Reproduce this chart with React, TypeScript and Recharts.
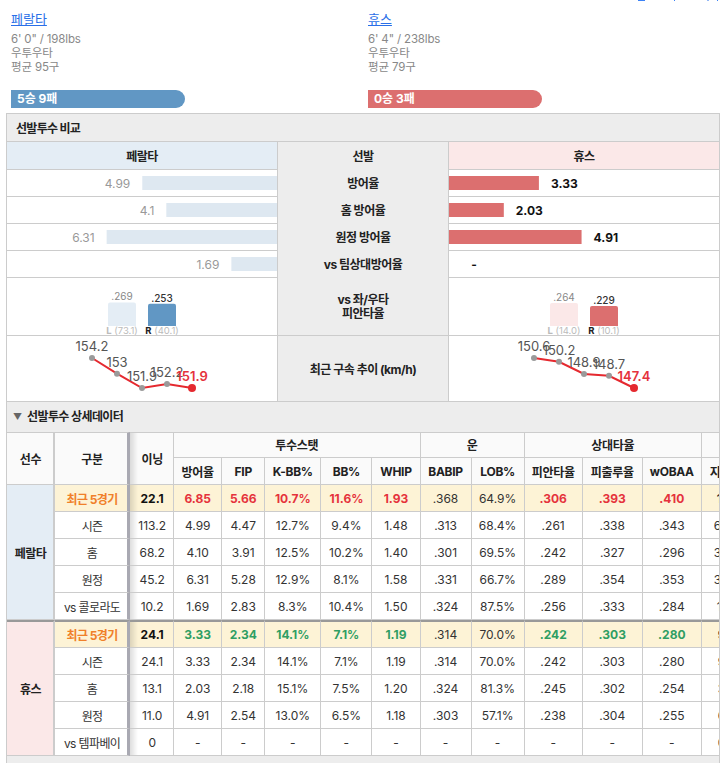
import React from "react";
import { BarChart, Bar, Cell, LineChart, Line, XAxis, YAxis, LabelList } from "recharts";

const FONT = "Inter, 'Noto Sans CJK KR', sans-serif";
const BORDER = "#cccccc";
const BLUE = "#6197c4";
const BLUE_LIGHT = "#e4edf5";
const RED = "#dc6f6f";
const RED_LIGHT = "#fbe8e8";
const BAND = "#ededed";

// season ERA comparison
const eraLabels = ["방어율", "홈 방어율", "원정 방어율", "vs 팀상대방어율"];
const peraltaEra = [4.99, 4.1, 6.31, 1.69];
const hughesEra = [3.33, 2.03, 4.91, null];

// vs left / right
const splitHands = ["L", "R"];
const peraltaSplitAvg = [0.269, 0.253];
const peraltaSplitIp = ["73.1", "40.1"];
const hughesSplitAvg = [0.264, 0.229];
const hughesSplitIp = ["14.0", "10.1"];

// velocity, last 5 starts
const startIndex = [1, 2, 3, 4, 5];
const peraltaVelo = [154.2, 153, 151.9, 152.2, 151.9];
const hughesVelo = [150.6, 150.2, 148.9, 148.7, 147.4];

const splitColumns = ["구분", "이닝", "방어율", "FIP", "K-BB%", "BB%", "WHIP", "BABIP", "LOB%", "피안타율", "피출루율", "wOBAA", "지"];
const peraltaRows = [
  ["최근 5경기", "22.1", "6.85", "5.66", "10.7%", "11.6%", "1.93", ".368", "64.9%", ".306", ".393", ".410", "1"],
  ["시즌", "113.2", "4.99", "4.47", "12.7%", "9.4%", "1.48", ".313", "68.4%", ".261", ".338", ".343", "6"],
  ["홈", "68.2", "4.10", "3.91", "12.5%", "10.2%", "1.40", ".301", "69.5%", ".242", ".327", ".296", "3"],
  ["원정", "45.2", "6.31", "5.28", "12.9%", "8.1%", "1.58", ".331", "66.7%", ".289", ".354", ".353", "3"],
  ["vs 콜로라도", "10.2", "1.69", "2.83", "8.3%", "10.4%", "1.50", ".324", "87.5%", ".256", ".333", ".284", "1"],
];
const hughesRows = [
  ["최근 5경기", "24.1", "3.33", "2.34", "14.1%", "7.1%", "1.19", ".314", "70.0%", ".242", ".303", ".280", "9"],
  ["시즌", "24.1", "3.33", "2.34", "14.1%", "7.1%", "1.19", ".314", "70.0%", ".242", ".303", ".280", "9"],
  ["홈", "13.1", "2.03", "2.18", "15.1%", "7.5%", "1.20", ".324", "81.3%", ".245", ".302", ".254", "3"],
  ["원정", "11.0", "4.91", "2.54", "13.0%", "6.5%", "1.18", ".303", "57.1%", ".238", ".304", ".255", "6"],
  ["vs 템파베이", "0", "-", "-", "-", "-", "-", "-", "-", "-", "-", "-", "0"],
];

const colWidths = [48, 75, 44, 48, 43, 56, 51, 48, 51, 53, 58, 60, 59, 50];
const lastColInset = [15, 12, 12, 12, 15, 16, 16, 16, 16, 16];
const eraColHighlighted = [2, 3, 4, 5, 6, 9, 10, 11];

function Box({ x, y, w, h, style, children }: any) {
  return (
    <div
      style={{
        position: "absolute",
        left: x,
        top: y,
        width: w,
        height: h,
        boxSizing: "border-box",
        display: "flex",
        alignItems: "center",
        justifyContent: "center",
        ...style,
      }}
    >
      {children}
    </div>
  );
}

function EraBars({ values, flip, color, textColor, weight }: any) {
  const data = eraLabels.map((name, i) => ({ name, value: values[i] }));
  const renderLabel = (p: any) => {
    if (p.value == null) return null;
    const edge = flip ? Math.min(p.x, p.x + p.width) - 12 : Math.max(p.x, p.x + p.width) + 12;
    return (
      <text x={edge} y={p.y + p.height / 2 + 4.5} textAnchor={flip ? "end" : "start"} fontSize={12} fontFamily={FONT} fill={textColor} fontWeight={weight}>
        {p.value}
      </text>
    );
  };
  return (
    <BarChart width={270} height={108} data={data} layout="vertical" margin={{ top: 0, right: 0, bottom: 0, left: 0 }}>
      <XAxis type="number" domain={[0, 10]} hide reversed={flip} />
      <YAxis type="category" dataKey="name" hide />
      <Bar dataKey="value" fill={color} barSize={14} isAnimationActive={false}>
        <LabelList dataKey="value" content={renderLabel} />
      </Bar>
    </BarChart>
  );
}

function SplitBars({ avg, ip, light, strong }: any) {
  const data = splitHands.map((hand, i) => ({ hand, avg: avg[i], ip: ip[i] }));
  const renderTick = (p: any) => {
    const i = p.payload.index;
    return (
      <text x={p.x} y={p.y + 8} textAnchor="middle" fontSize={9.5} fontFamily={FONT} fill="#bbbbbb">
        <tspan fontWeight={700} fill={i === 1 ? "#222222" : "#bbbbbb"}>{splitHands[i]}</tspan>
        <tspan> ({ip[i]})</tspan>
      </text>
    );
  };
  const renderValue = (p: any) => (
    <text x={p.x + p.width / 2} y={p.y - 2} textAnchor="middle" fontSize={10} fontFamily={FONT} fill={p.index === 1 ? "#333333" : "#888888"} fontWeight={p.index === 1 ? 500 : 400}>
      {p.value.toFixed(3).slice(1)}
    </text>
  );
  return (
    <BarChart width={270} height={57} data={data} margin={{ top: 11, right: 95, bottom: 0, left: 95 }}>
      <XAxis dataKey="hand" height={11} axisLine={false} tickLine={false} tickSize={0} tickMargin={0} interval={0} tick={renderTick} />
      <YAxis hide domain={[0, 0.4]} />
      <Bar dataKey="avg" barSize={28} radius={[2, 2, 0, 0]} isAnimationActive={false}>
        {data.map((d, i) => (
          <Cell key={d.hand} fill={i === 0 ? light : strong} />
        ))}
        <LabelList dataKey="avg" content={renderValue} />
      </Bar>
    </BarChart>
  );
}

function VeloLine({ values }: any) {
  const data = startIndex.map((start, i) => ({ start, velo: values[i] }));
  const last = values.length - 1;
  const renderDot = (p: any) => (
    <circle key={p.index} cx={p.cx} cy={p.cy} r={p.index === last ? 4 : 3} fill={p.index === last ? "#e5292f" : "#9a9a9a"} />
  );
  const renderLabel = (p: any) => (
    <text x={p.x} y={p.y - 7} textAnchor="middle" fontSize={13} fontFamily={FONT} fill={p.index === last ? "#e5323c" : "#555555"} fontWeight={p.index === last ? 600 : 400}>
      {p.value}
    </text>
  );
  return (
    <LineChart width={270} height={65} data={data} margin={{ top: 22, right: 85, bottom: 13, left: 85 }}>
      <XAxis dataKey="start" hide scale="point" padding={{ left: 0, right: 0 }} />
      <YAxis hide domain={[Math.min(...values), Math.max(...values)]} />
      <Line dataKey="velo" stroke="#e5292f" strokeWidth={2} dot={renderDot} label={renderLabel} isAnimationActive={false} />
    </LineChart>
  );
}

function Profile({ x, name, size, hand, pitches, record, color }: any) {
  return (
    <>
      <div style={{ position: "absolute", left: x, top: 11, fontSize: 13, lineHeight: "17px", color: "#2a6fe8", textDecoration: "underline" }}>{name}</div>
      <div style={{ position: "absolute", left: x, top: 32, fontSize: 11.5, lineHeight: "14px", color: "#888888", letterSpacing: -0.15 }}>
        <div>{size}</div>
        <div>{hand}</div>
        <div>{pitches}</div>
      </div>
      <div style={{ position: "absolute", left: x, top: 90, width: 174, height: 18, background: color, borderRadius: "0 9px 9px 0", color: "#fff", fontSize: 12, fontWeight: 700, lineHeight: "18px", paddingLeft: 6, boxSizing: "border-box" }}>{record}</div>
    </>
  );
}

function DetailRow({ cells, good, first, rowspanCell, rowIndex }: any) {
  const hl = first;
  const thick = rowIndex === 5;
  const bg = hl ? "#fdf3d6" : "#fff";
  return (
    <tr>
      {rowspanCell}
      {cells.map((c: string, i: number) => {
        const style: any = {
          height: thick ? 28 : 27,
          boxSizing: "border-box",
          padding: 0,
          textAlign: "center",
          whiteSpace: "nowrap",
          overflow: "hidden",
          fontSize: 12,
          color: "#333",
          background: bg,
          borderRight: `1px solid ${BORDER}`,
          borderBottom: `1px solid ${BORDER}`,
          borderTop: thick ? "2px solid #999999" : undefined,
        };
        if (i === 0) {
          style.borderRight = "3px solid #a9a9b2";
          style.letterSpacing = -0.6;
          style.paddingLeft = 2;
          if (hl) {
            style.color = "#f0802a";
            style.fontWeight = 700;
          }
        }
        if (i === 1) {
          style.background = `linear-gradient(90deg, rgba(0,0,0,0.13), rgba(0,0,0,0) 8px), ${bg}`;
          style.paddingLeft = 1;
          if (hl) {
            style.fontWeight = 700;
            style.color = "#111";
          }
        }
        if (hl && eraColHighlighted.includes(i)) {
          style.fontWeight = 700;
          style.color = good ? "#2f9e63" : "#e5323c";
        }
        if (i === cells.length - 1) {
          style.textAlign = "left";
          style.paddingLeft = lastColInset[rowIndex];
          if (hl) style.fontWeight = 700;
        }
        return (
          <td key={i} style={style}>
            {c}
          </td>
        );
      })}
    </tr>
  );
}

function DetailTable() {
  const th: any = {
    padding: 0,
    boxSizing: "border-box",
    fontSize: 12,
    fontWeight: 700,
    color: "#222",
    background: "#fafafa",
    textAlign: "center",
    whiteSpace: "nowrap",
    overflow: "hidden",
    letterSpacing: -0.3,
    borderRight: `1px solid ${BORDER}`,
    borderBottom: `1px solid ${BORDER}`,
  };
  const sideCell = (name: string, bg: string, thick: boolean) => (
    <td
      rowSpan={5}
      style={{ ...th, paddingLeft: 1, background: bg, color: "#222", fontSize: 12, letterSpacing: -0.6, borderRight: `2px solid ${BORDER}`, borderTop: thick ? "2px solid #999999" : undefined }}
    >
      {name}
    </td>
  );
  const columns = splitColumns.slice(2);
  return (
    <div style={{ position: "absolute", left: 7, top: 432, width: 712, height: 324, overflow: "hidden" }}>
      <table style={{ borderCollapse: "separate", borderSpacing: 0, tableLayout: "fixed", width: 745, fontFamily: FONT }}>
        <colgroup>
          {colWidths.map((w, i) => (
            <col key={i} style={{ width: w }} />
          ))}
        </colgroup>
        <thead>
          <tr style={{ height: 26 }}>
            <th rowSpan={2} style={{ ...th, paddingLeft: 1, borderTop: `1px solid ${BORDER}`, borderRight: `2px solid ${BORDER}` }}>선수</th>
            <th rowSpan={2} style={{ ...th, paddingLeft: 2, borderTop: `1px solid ${BORDER}`, borderRight: "3px solid #a9a9b2" }}>{splitColumns[0]}</th>
            <th rowSpan={2} style={{ ...th, paddingLeft: 1, borderTop: `1px solid ${BORDER}`, background: "linear-gradient(90deg, rgba(0,0,0,0.13), rgba(0,0,0,0) 8px), #fafafa" }}>{splitColumns[1]}</th>
            <th colSpan={5} style={{ ...th, borderTop: `1px solid ${BORDER}`, height: 26, paddingBottom: 2 }}>투수스탯</th>
            <th colSpan={2} style={{ ...th, borderTop: `1px solid ${BORDER}`, paddingBottom: 2 }}>운</th>
            <th colSpan={3} style={{ ...th, borderTop: `1px solid ${BORDER}`, paddingBottom: 2 }}>상대타율</th>
            <th style={{ ...th, borderTop: `1px solid ${BORDER}` }}></th>
          </tr>
          <tr style={{ height: 27 }}>
            {columns.map((c, i) => (
              <th key={c} style={{ ...th, height: 27, ...(i === columns.length - 1 ? { textAlign: "left", paddingLeft: 8 } : {}) }}>{c}</th>
            ))}
          </tr>
        </thead>
        <tbody>
          {peraltaRows.map((cells, i) => (
            <DetailRow key={i} cells={cells} first={i === 0} good={false} rowIndex={i} rowspanCell={i === 0 ? sideCell("페랄타", BLUE_LIGHT, false) : null} />
          ))}
          {hughesRows.map((cells, i) => (
            <DetailRow key={i} cells={cells} first={i === 0} good rowIndex={i + 5} rowspanCell={i === 0 ? sideCell("휴스", RED_LIGHT, true) : null} />
          ))}
        </tbody>
      </table>
    </div>
  );
}

const compareRowTops = [169, 196, 223, 250];

export default function App() {
  const label: any = { background: BAND, fontSize: 12, fontWeight: 700, color: "#222", textAlign: "center", letterSpacing: -0.5, borderBottom: `1px solid ${BORDER}`, borderLeft: `1px solid ${BORDER}`, borderRight: `1px solid ${BORDER}` };
  const line: any = { borderBottom: `1px solid ${BORDER}` };
  return (
    <div style={{ position: "fixed", left: 0, top: 0, width: 726, height: 763, overflow: "hidden", background: "#fff", fontFamily: FONT }}>
      <Box x={638} y={0} w={7} h={1} style={{ background: "#3b82f6" }} />
      <Box x={674} y={0} w={1} h={1} style={{ background: "#3b82f6" }} />
      <Box x={707} y={0} w={2} h={1} style={{ background: "#93b7f5" }} />
      <Box x={717} y={0} w={1} h={1} style={{ background: "#3b82f6" }} />

      <Profile x={11} name="페랄타" size={`6' 0" / 198lbs`} hand="우투우타" pitches="평균 95구" record="5승 9패" color={BLUE} />
      <Profile x={368} name="휴스" size={`6' 4" / 238lbs`} hand="우투우타" pitches="평균 79구" record="0승 3패" color={RED} />

      {/* compare block */}
      <Box x={6} y={113} w={714} h={29} style={{ background: BAND, border: `1px solid ${BORDER}`, justifyContent: "flex-start", paddingLeft: 9, fontSize: 12, fontWeight: 700, color: "#222", letterSpacing: -0.7 }}>선발투수 비교</Box>
      <Box x={6} y={142} w={271} h={28} style={{ background: BLUE_LIGHT, borderBottom: `1px solid ${BORDER}`, borderLeft: `1px solid ${BORDER}`, fontSize: 12, fontWeight: 700, color: "#222", letterSpacing: -0.5 }}>페랄타</Box>
      <Box x={277} y={142} w={172} h={28} style={label}>선발</Box>
      <Box x={449} y={142} w={271} h={28} style={{ background: RED_LIGHT, borderBottom: `1px solid ${BORDER}`, borderRight: `1px solid ${BORDER}`, fontSize: 12, fontWeight: 700, color: "#222", letterSpacing: -0.5 }}>휴스</Box>

      {compareRowTops.map((top, i) => (
        <React.Fragment key={top}>
          <Box x={6} y={top} w={271} h={28} style={{ ...line, borderLeft: `1px solid ${BORDER}` }} />
          <Box x={277} y={top} w={172} h={28} style={label}>{eraLabels[i]}</Box>
          <Box x={449} y={top} w={271} h={28} style={{ ...line, borderRight: `1px solid ${BORDER}` }} />
        </React.Fragment>
      ))}
      <Box x={6} y={277} w={271} h={59} style={{ ...line, borderLeft: `1px solid ${BORDER}` }} />
      <Box x={277} y={277} w={172} h={59} style={{ ...label, paddingTop: 1 }}>
        <div style={{ lineHeight: "14px" }}>vs 좌/우타<br />피안타율</div>
      </Box>
      <Box x={449} y={277} w={271} h={59} style={{ ...line, borderRight: `1px solid ${BORDER}` }} />
      <Box x={6} y={336} w={271} h={66} style={{ ...line, borderLeft: `1px solid ${BORDER}` }} />
      <Box x={277} y={336} w={172} h={66} style={label}>최근 구속 추이 (km/h)</Box>
      <Box x={449} y={336} w={271} h={66} style={{ ...line, borderRight: `1px solid ${BORDER}` }} />

      <div style={{ position: "absolute", left: 7, top: 169 }}>
        <EraBars values={peraltaEra} flip color="#dee8f1" textColor="#999999" weight={400} />
      </div>
      <div style={{ position: "absolute", left: 449, top: 169 }}>
        <EraBars values={hughesEra} flip={false} color={RED} textColor="#111111" weight={700} />
      </div>
      <Box x={470} y={257} w={8} h={14} style={{ fontSize: 12, fontWeight: 700, color: "#111" }}>-</Box>

      <div style={{ position: "absolute", left: 7, top: 280 }}>
        <SplitBars avg={peraltaSplitAvg} ip={peraltaSplitIp} light={BLUE_LIGHT} strong={BLUE} />
      </div>
      <div style={{ position: "absolute", left: 449, top: 280 }}>
        <SplitBars avg={hughesSplitAvg} ip={hughesSplitIp} light={RED_LIGHT} strong={RED} />
      </div>

      <div style={{ position: "absolute", left: 7, top: 336 }}>
        <VeloLine values={peraltaVelo} />
      </div>
      <div style={{ position: "absolute", left: 449, top: 336 }}>
        <VeloLine values={hughesVelo} />
      </div>

      {/* detail block */}
      <Box x={6} y={402} w={714} h={361} style={{ background: BAND, borderLeft: `1px solid ${BORDER}`, borderRight: `1px solid ${BORDER}` }} />
      <div style={{ position: "absolute", left: 13, top: 410, fontSize: 9, lineHeight: "14px", color: "#666" }}>▼</div>
      <div style={{ position: "absolute", left: 27, top: 409, fontSize: 12, lineHeight: "16px", fontWeight: 700, color: "#222", letterSpacing: -0.6 }}>선발투수 상세데이터</div>
      <DetailTable />
    </div>
  );
}
